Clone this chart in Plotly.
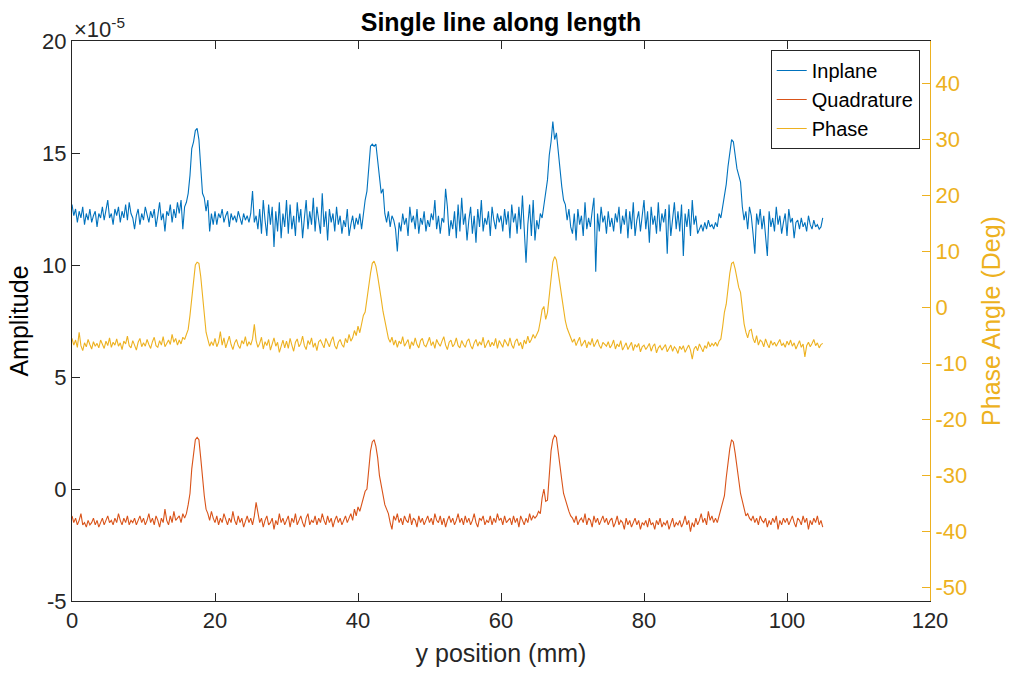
import plotly.graph_objects as go

# Sample spacing along the scan line (mm)
STEP_MM = 0.25

# Inplane amplitude, in units of 1e-5 (one row = 5 mm)
inplane = [
    12.7, 12.2, 12.5, 11.9, 12.4, 12.1, 12.6, 11.8, 12.3, 12.0, 12.5, 11.9, 12.2, 12.4, 11.7, 12.3, 12.1, 12.6, 12.0, 12.4,
    12.9, 12.1, 12.3, 11.8, 12.5, 12.2, 12.6, 11.9, 12.4, 12.1, 12.7, 12.0, 12.8, 12.3, 12.1, 11.6, 12.2, 12.5, 11.8, 12.3,
    12.0, 12.6, 12.2, 11.9, 12.4, 12.1, 12.5, 11.7, 12.2, 12.8, 12.0, 12.3, 11.5, 12.4, 12.2, 12.7, 11.9, 12.5, 12.1, 12.8,
    12.3, 12.9, 11.6, 12.6, 12.8, 13.2, 14.0, 15.2, 15.5, 16.0, 16.1, 15.6, 14.4, 13.2, 13.0, 12.4, 12.9, 11.5, 12.3, 11.8,
    12.4, 11.8, 12.3, 12.1, 12.5, 11.9, 12.2, 12.4, 11.7, 12.3, 12.0, 12.2, 11.9, 12.4, 12.1, 11.8, 12.3, 12.0, 12.2, 11.9,
    12.3, 13.3, 11.9, 12.2, 11.6, 12.5, 11.4, 12.9, 12.0, 11.3, 12.7, 11.8, 12.6, 10.8, 12.4, 11.5, 12.8, 11.2, 12.3, 11.7,
    12.9, 11.4, 12.7, 11.6, 12.2, 11.3, 12.8, 11.9, 12.5, 11.2, 12.1, 12.9, 11.6, 12.4, 11.8, 13.0, 11.5, 12.6, 12.0, 11.4,
    13.2, 11.7, 12.4, 11.1, 12.5, 11.9, 12.3, 11.5, 12.6, 11.8, 12.2, 11.4, 12.0, 11.7, 12.5, 11.3, 11.8, 12.2, 11.6, 12.1,
    11.8, 12.3, 11.6, 12.4, 12.9, 13.3, 14.2, 15.3, 15.4, 15.3, 15.4, 14.6, 14.0, 13.2, 13.4, 12.3, 11.9, 12.4, 11.7, 12.2,
    12.0, 11.6, 10.6, 11.9, 11.5, 12.3, 11.8, 12.1, 11.3, 12.6, 11.9, 12.2, 11.6, 12.5, 11.4, 12.1, 11.8, 12.4, 11.5, 12.0,
    11.7, 12.3, 12.0, 12.9, 11.6, 12.2, 11.4, 12.1, 11.9, 13.4, 12.6, 11.3, 12.0, 11.6, 12.4, 11.2, 12.7, 11.5, 13.0, 11.8,
    12.3, 11.1, 12.0, 12.6, 11.4, 12.2, 11.0, 12.5, 11.7, 12.9, 11.5, 12.1, 11.8, 12.4, 11.3, 12.6, 12.0, 11.6, 12.3, 11.9,
    12.2, 11.5, 12.5, 11.8, 12.4, 11.2, 12.7, 11.9, 12.3, 11.4, 12.6, 11.6, 13.1, 11.5, 10.1, 11.8, 12.7, 11.3, 12.9, 11.1,
    12.0, 11.6, 12.3, 12.1, 12.6, 13.3, 13.8, 14.9, 15.5, 16.4, 15.6, 15.9, 15.0, 14.2, 13.5, 12.9, 12.7, 12.0, 12.5, 11.7,
    11.4, 12.3, 11.1, 12.5, 11.8, 12.2, 11.3, 12.8, 11.6, 12.1, 11.7, 12.4, 13.0, 9.7, 12.3, 11.5, 12.6, 11.9, 12.2, 11.4,
    12.4, 11.7, 12.1, 11.5, 12.3, 11.9, 12.6, 11.4, 12.2, 11.8, 12.5, 11.2, 12.4, 11.6, 12.8, 11.3, 12.0, 12.4, 11.5, 12.2,
    12.9, 11.6, 12.4, 11.0, 12.6, 11.8, 12.2, 11.4, 12.8, 11.5, 12.3, 11.9, 12.5, 10.5, 12.7, 11.3, 12.1, 12.8, 11.6, 12.4,
    11.5, 12.7, 10.4, 12.3, 11.7, 12.5, 11.3, 12.9, 11.8, 12.2, 11.4, 11.6, 11.8, 11.5, 11.9, 11.6, 12.0, 11.7, 11.8, 11.6,
    11.9, 11.7, 12.3, 12.1, 12.6, 13.3, 13.6, 14.4, 15.0, 15.6, 15.5, 14.9, 14.3, 14.0, 13.7, 12.6, 12.0, 12.4, 11.6, 12.6,
    12.2, 11.4, 10.5, 12.3, 11.8, 12.5, 11.6, 12.2, 11.1, 10.4, 12.4, 11.7, 12.1, 11.5, 12.6, 11.8, 12.2, 11.4, 11.9, 12.3,
    11.3, 12.5, 11.9, 12.1, 11.2, 11.9, 12.0, 11.6, 12.1, 11.7, 11.9, 11.5, 12.2, 11.8, 11.6, 12.0, 11.7, 11.8, 11.6, 11.7,
    12.1,
]

# Quadrature amplitude, in units of 1e-5
quadrature = [
    -1.2, -1.5, -1.3, -1.6, -1.4, -1.1, -1.6, -1.5, -1.7, -1.4, -1.6, -1.5, -1.3, -1.6, -1.4, -1.7, -1.5, -1.3, -1.6, -1.4,
    -1.2, -1.5, -1.4, -1.6, -1.3, -1.5, -1.1, -1.4, -1.6, -1.3, -1.5, -1.2, -1.6, -1.4, -1.5, -1.3, -1.6, -1.4, -1.2, -1.5,
    -1.3, -1.6, -1.4, -1.1, -1.5, -1.3, -1.6, -1.2, -1.4, -1.7, -1.3, -1.5, -0.9, -1.4, -1.6, -1.2, -1.5, -1.0, -1.4, -1.3,
    -1.2, -1.5, -1.1, -1.3, -1.1, -0.7, -0.2, 0.9, 1.5, 2.2, 2.3, 2.2, 1.4, 0.5, -0.3, -0.9, -1.1, -1.4, -1.0, -1.3,
    -1.5, -1.2, -1.6, -1.3, -1.5, -1.1, -1.4, -1.6, -1.3, -1.5, -1.0, -1.4, -1.6, -1.2, -1.5, -1.3, -1.7, -1.4, -1.2, -1.5,
    -1.3, -1.6, -1.2, -0.6, -1.1, -1.5, -1.3, -1.7, -1.4, -1.2, -1.6, -1.5, -1.3, -1.8, -1.4, -1.6, -1.1, -1.5, -1.3, -1.6,
    -1.4, -1.2, -1.7, -1.3, -1.5, -1.1, -1.6, -1.4, -1.2, -1.5, -1.7, -1.3, -1.1, -1.6, -1.4, -1.5, -1.2, -1.6, -1.3, -1.5,
    -1.1, -1.4, -1.6, -1.2, -1.5, -1.3, -1.7, -1.4, -1.2, -1.5, -1.3, -1.6, -1.4, -1.2, -1.5, -1.3, -1.1, -1.4, -0.9, -1.2,
    -0.8, -1.0, -0.7, -0.4, -0.1, 0.0, 1.0, 1.7, 2.1, 2.2, 1.9, 1.4, 0.6, 0.1, -0.4, -0.7, -0.9, -1.1, -1.5, -1.8,
    -1.2, -1.4, -1.1, -1.5, -1.3, -1.6, -1.2, -1.4, -1.5, -1.1, -1.6, -1.3, -1.4, -1.7, -1.2, -1.5, -1.3, -1.6, -1.4, -1.2,
    -1.5, -1.3, -1.6, -1.1, -1.4, -1.5, -1.2, -1.6, -1.3, -1.7, -1.4, -1.2, -1.5, -1.3, -1.6, -1.4, -1.1, -1.5, -1.3, -1.6,
    -1.2, -1.5, -1.3, -1.6, -1.4, -1.1, -1.5, -1.7, -1.3, -1.4, -1.2, -1.6, -1.4, -1.5, -1.2, -1.6, -1.3, -1.5, -1.1, -1.4,
    -1.3, -1.6, -1.2, -1.5, -1.4, -1.3, -1.6, -1.2, -1.5, -1.3, -1.7, -1.2, -1.4, -1.6, -1.3, -1.5, -1.1, -1.4, -1.2, -1.3,
    -1.2, -1.0, -1.1, -0.4, 0.0, -0.55, -0.5, 0.8, 1.7, 2.2, 2.4, 2.3, 1.6, 1.0, 0.4, -0.2, -0.5, -0.8, -1.0, -1.2,
    -1.3, -1.5, -1.2, -1.6, -1.4, -1.3, -1.5, -1.1, -1.6, -1.3, -1.4, -1.7, -1.2, -1.5, -1.3, -1.6, -1.4, -1.2, -1.5, -1.3,
    -1.6, -1.4, -1.3, -1.7, -1.5, -1.2, -1.6, -1.4, -1.5, -1.8, -1.3, -1.6, -1.4, -1.7, -1.5, -1.3, -1.6, -1.4, -1.8, -1.5,
    -1.6, -1.4, -1.7, -1.3, -1.6, -1.5, -1.8, -1.4, -1.6, -1.3, -1.7, -1.5, -1.6, -1.4, -1.8, -1.5, -1.3, -1.7, -1.5, -1.6,
    -1.4, -1.7, -1.5, -1.2, -1.6, -1.4, -1.9, -1.5, -1.7, -1.3, -1.6, -1.4, -1.1, -1.5, -1.3, -1.6, -1.0, -1.4, -1.2, -1.5,
    -1.3, -1.5, -1.2, -1.0, -0.6, -0.3, 0.5, 1.2, 1.8, 2.2, 2.1, 1.6, 0.9, 0.4, -0.2, -0.5, -0.9, -1.2, -1.1, -1.3,
    -1.4, -1.2, -1.5, -1.3, -1.6, -1.2, -1.4, -1.5, -1.3, -1.7, -1.4, -1.6, -1.3, -1.5, -1.2, -1.8, -1.4, -1.6, -1.3, -1.5,
    -1.3, -1.6, -1.4, -1.2, -1.5, -1.7, -1.3, -1.4, -1.6, -1.2, -1.5, -1.3, -1.8, -1.4, -1.6, -1.3, -1.5, -1.2, -1.6, -1.4,
    -1.7,
]

# Phase angle, degrees
phase_deg = [
    -5.6, -6.8, -5.9, -7.2, -4.5, -6.9, -7.8, -6.4, -7.1, -5.8, -6.7, -7.5, -6.2, -7.0, -6.5, -7.3, -5.9, -6.8, -7.4, -6.1,
    -6.9, -5.5, -7.2, -6.3, -6.8, -5.7, -7.0, -6.4, -7.6, -6.1, -6.6, -5.2, -6.9, -7.3, -6.0, -6.8, -7.7, -6.3, -5.6, -7.1,
    -6.4, -7.0, -5.8, -6.7, -7.4, -6.2, -5.4, -6.9, -7.2, -6.0, -6.8, -5.3, -7.1, -6.5, -5.9, -6.7, -4.9, -6.3, -5.6, -6.8,
    -5.9, -6.6, -5.4, -5.8, -5.0, -4.0, -1.5, 1.9, 5.0, 7.5, 8.0, 7.8, 5.5, 2.0, -1.5, -4.5, -5.8, -7.0, -6.2, -6.9,
    -5.6, -7.1, -6.3, -4.4, -6.8, -5.5, -7.3, -6.1, -5.2, -6.7, -7.6, -6.4, -5.8, -6.9, -7.4, -6.0, -6.6, -5.3, -7.0, -6.2,
    -6.8, -5.7, -3.1, -6.0, -7.2, -6.5, -5.4, -7.5, -6.2, -6.9, -5.8, -7.7, -6.4, -5.5, -7.0, -6.3, -8.1, -6.7, -5.9, -7.3,
    -6.1, -7.4, -5.6, -6.8, -7.9, -6.3, -5.7, -7.1, -6.5, -5.2, -6.9, -7.6, -6.0, -6.7, -5.5, -7.2, -6.4, -7.8, -6.2, -5.9,
    -6.8, -7.3, -5.6, -6.5, -7.1, -6.0, -5.3, -6.9, -7.5, -6.3, -5.8, -6.7, -7.2, -5.6, -6.4, -4.9, -6.1, -5.5, -4.2, -5.1,
    -3.4, -4.6, -3.0, -1.5, -0.9, 1.0, 3.7, 6.0, 7.8, 8.2, 7.3, 5.5, 3.0, 1.4, -0.8, -2.6, -4.0, -5.6, -6.3, -5.4,
    -6.8, -5.9, -7.2, -6.1, -6.6, -5.3, -7.0, -6.4, -5.8, -7.5, -6.2, -6.9, -5.5, -6.7, -7.3, -6.0, -5.6, -6.8, -7.1, -6.3,
    -5.4, -6.9, -6.2, -7.4, -5.8, -6.5, -7.0, -6.1, -5.3, -6.8, -7.6, -6.3, -5.9, -7.1, -6.6, -5.5, -6.9, -7.3, -6.0, -6.7,
    -7.2, -6.1, -5.7, -6.9, -7.5, -6.4, -5.8, -7.0, -6.2, -6.8, -5.4, -7.3, -6.5, -5.9, -7.1, -6.3, -6.9, -5.6, -7.4, -6.0,
    -6.6, -7.2, -5.8, -6.4, -7.0, -5.5, -6.8, -7.4, -6.1, -5.7, -6.9, -6.3, -7.5, -5.9, -6.6, -5.2, -6.4, -5.8, -4.9, -5.6,
    -5.0, -4.2, -2.5, -0.5, 0.1, -2.2, -1.0, 2.5, 5.0, 8.0, 9.0, 8.4, 6.5, 4.0, 1.8, -0.5, -2.5, -3.8, -4.6, -5.5,
    -6.3, -5.7, -6.9, -6.1, -5.4, -7.0, -6.5, -5.9, -7.3, -6.2, -6.8, -5.6, -7.1, -6.4, -5.8, -6.9, -7.4, -6.3, -6.7, -7.0,
    -6.2, -7.3, -6.8, -5.9, -7.5, -6.6, -7.1, -6.0, -7.7, -6.9, -6.4, -7.6, -7.0, -6.3, -7.8, -6.7, -7.2, -6.5, -8.0, -7.1,
    -6.8, -7.6, -7.1, -6.5, -7.9, -7.0, -6.6, -8.2, -7.3, -6.9, -7.7, -7.2, -6.7, -8.0, -7.4, -6.8, -7.9, -7.1, -7.5, -8.3,
    -7.0, -7.6, -6.9, -8.1, -7.4, -6.8, -7.7, -9.3, -7.5, -7.0, -7.8, -6.6, -7.3, -8.0, -6.9, -7.4, -6.2, -7.1, -6.5, -6.9,
    -6.3, -7.0, -6.1, -5.7, -3.5, -0.9, 0.5, 3.7, 6.0, 7.8, 8.0, 6.8, 5.0, 3.5, 2.6, -0.5, -3.0, -4.5, -5.5, -4.2,
    -4.0, -5.6, -6.4, -5.1, -6.8, -5.9, -6.2, -7.1, -5.7, -6.6, -7.3, -6.0, -6.8, -6.3, -7.0, -6.4, -5.8, -6.9, -6.5, -7.2,
    -6.1, -6.8, -5.9, -7.0, -6.4, -7.5, -6.7, -6.0, -7.2, -6.6, -8.9, -6.9, -6.3, -7.1, -6.5, -5.8, -6.9, -6.4, -7.3, -6.7,
    -6.5,
]

x_ticks = [0, 20, 40, 60, 80, 100, 120]
amp_ticks = [-5, 0, 5, 10, 15, 20]
phase_ticks = [-50, -40, -30, -20, -10, 0, 10, 20, 30, 40]

BLUE, ORANGE, YELLOW = "#0072BD", "#D95319", "#EDB120"
DARK = "#262626"
FONT = "Liberation Sans, Arial, Helvetica, sans-serif"
TICK_SIZE = 22
LABEL_SIZE = 25


def positions(n):
    return [round(i * STEP_MM, 2) for i in range(n)]


def labels(vals):
    return [str(v) for v in vals]


fig = go.Figure()
fig.add_trace(go.Scatter(x=positions(len(inplane)), y=inplane, name="Inplane", mode="lines",
                         line=dict(color=BLUE, width=1.1), yaxis="y"))
fig.add_trace(go.Scatter(x=positions(len(quadrature)), y=quadrature, name="Quadrature", mode="lines",
                         line=dict(color=ORANGE, width=1.1), yaxis="y"))
fig.add_trace(go.Scatter(x=positions(len(phase_deg)), y=phase_deg, name="Phase", mode="lines",
                         line=dict(color=YELLOW, width=1.1), yaxis="y2"))

fig.update_layout(
    width=1013, height=675,
    margin=dict(l=72, r=82, t=41, b=72),
    paper_bgcolor="white", plot_bgcolor="white",
    font=dict(family=FONT, color=DARK, size=TICK_SIZE),
    title=dict(text="<b>Single line along length</b>", x=0.5, xref="paper", xanchor="center",
               y=1 - 22 / 675, yref="container", yanchor="middle",
               font=dict(size=25, color="black", family=FONT)),
    xaxis=dict(range=[0, 120], tickvals=x_ticks, ticktext=labels(x_ticks),
               ticks="inside", ticklen=8, tickcolor=DARK,
               showline=True, linecolor=DARK, linewidth=1, mirror="ticks",
               showgrid=False, zeroline=False, tickfont=dict(size=TICK_SIZE, color=DARK),
               title=dict(text="y position (mm)", font=dict(size=LABEL_SIZE, color=DARK), standoff=12)),
    yaxis=dict(range=[-5, 20], tickvals=amp_ticks, ticktext=labels(amp_ticks),
               ticks="inside", ticklen=8, tickcolor=DARK,
               showline=True, linecolor=DARK, linewidth=1, mirror=False,
               showgrid=False, zeroline=False, tickfont=dict(size=TICK_SIZE, color=DARK),
               title=dict(text="Amplitude", font=dict(size=LABEL_SIZE, color="black"), standoff=6)),
    yaxis2=dict(range=[-52.5, 47.5], tickvals=phase_ticks, ticktext=labels(phase_ticks),
                overlaying="y", side="right",
                ticks="inside", ticklen=8, tickcolor=YELLOW,
                showline=True, linecolor=YELLOW, linewidth=1,
                showgrid=False, zeroline=False, tickfont=dict(size=TICK_SIZE, color=YELLOW),
                title=dict(text="Phase Angle (Deg)", font=dict(size=LABEL_SIZE, color=YELLOW), standoff=16)),
    legend=dict(x=0.988, y=0.984, xanchor="right", yanchor="top",
                bordercolor=DARK, borderwidth=1, bgcolor="white",
                font=dict(size=20, color="black"), tracegroupgap=0),
    annotations=[dict(text="\u00d710<sup>-5</sup>", xref="paper", yref="paper", x=0, y=1,
                      xanchor="left", yanchor="bottom", showarrow=False, yshift=-3,
                      font=dict(size=22, color=DARK))],
)

fig.write_html("out.html")
